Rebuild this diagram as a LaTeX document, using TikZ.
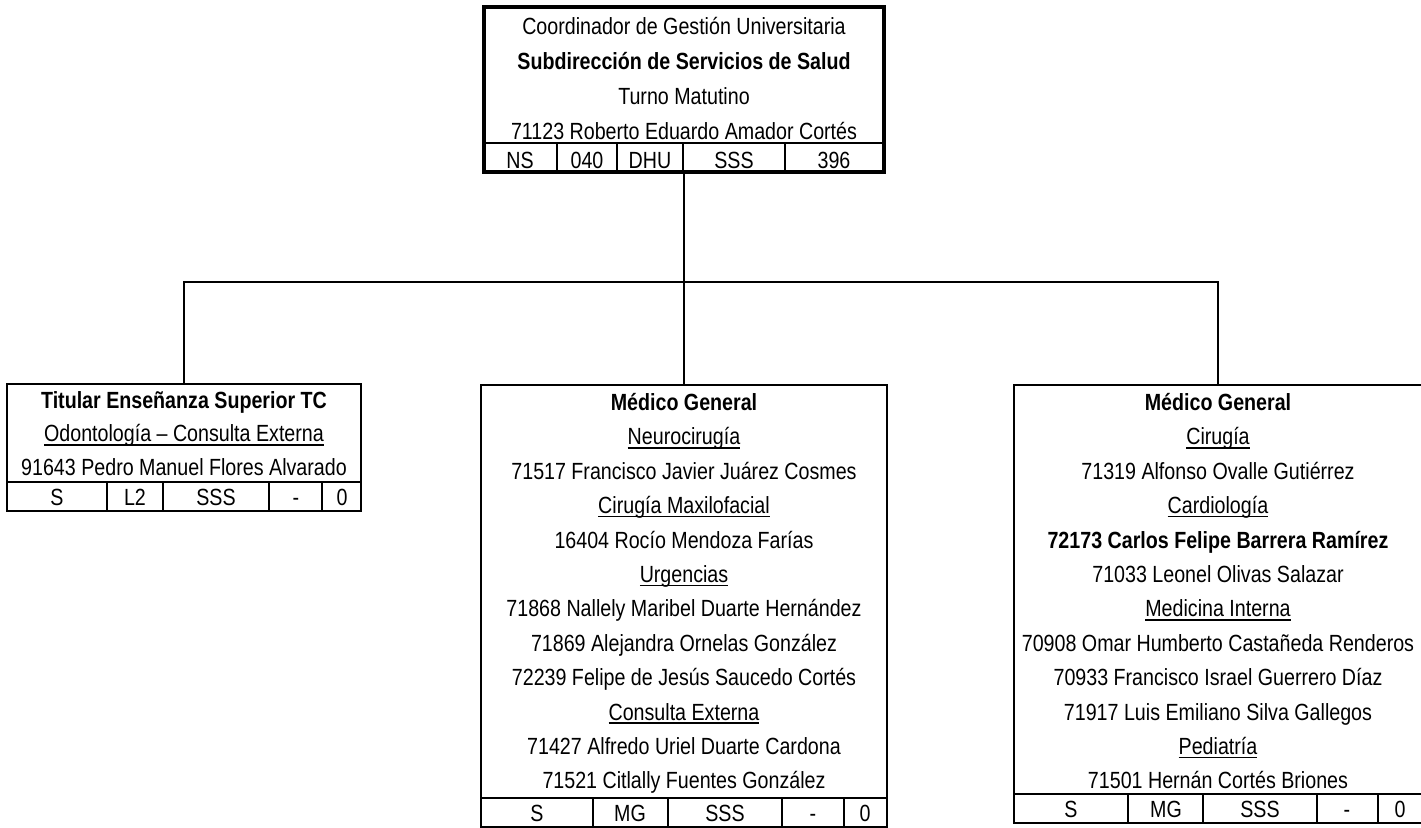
\documentclass[tikz,border=0pt]{standalone}
\usepackage{fontspec}
\setmainfont{Liberation Sans}[FakeStretch=0.84]
\usetikzlibrary{positioning}
\newcommand{\area}[1]{\setbox0=\hbox{#1}\leavevmode\rlap{\rule[-1.9pt]{\wd0}{0.8pt}}\box0}

\begin{document}
\begin{tikzpicture}[
  x=0.5pt, y=-0.5pt,
  txt/.style={anchor=base, inner sep=0pt, font=\fontsize{11.7}{14}\selectfont},
  frame/.style={draw, line width=1pt, inner sep=0pt},
  head/.style={frame, line width=2pt},
  cell/.style={line width=1pt},
  link/.style={line width=1pt},
]
\useasboundingbox (0,0) rectangle (1421,828);

\node[head,  minimum width=200pt, minimum height=82.5pt] (coord) at (684,89.5) {};
\node[frame, minimum width=177pt, minimum height=63.5pt] (odont) at (184,447.5) {};
\node[frame, minimum width=203pt, minimum height=221pt]  (mgA)   at (684,606) {};
\node[frame, minimum width=204pt, minimum height=219pt]  (mgB)   at (1218,604) {};

\coordinate (split) at (684,282);
\draw[link] (coord.south) -- (split);
\foreach \b in {odont, mgA, mgB}
  \draw[link] (split) -| (\b.north);

% jefe
\foreach \t [count=\i from 0] in {Coordinador de Gestión Universitaria,
    \textbf{Subdirección de Servicios de Salud}, Turno Matutino,
    71123 Roberto Eduardo Amador Cortés}
  \node[txt] (coord-\i) at (684,35+35*\i) {\t};
\draw[cell] (484,143) -- (884,143);
\foreach \x in {557,617,683,785}
  \draw[cell] (\x,143) -- (\x,172);
\foreach \x/\t [count=\i] in {520/NS, 587/040, 650/DHU, 734/SSS, 834/396}
  \node[txt] (coordc-\i) at (\x,169) {\t};

% odontologia
\foreach \t [count=\i from 0] in {\textbf{Titular Enseñanza Superior TC},
    \area{Odontología – Consulta Externa}, 91643 Pedro Manuel Flores Alvarado}
  \node[txt] (odont-\i) at (184,408.5+33.5*\i) {\t};
\draw[cell] (7,482) -- (361,482);
\foreach \x in {107,163,269,322}
  \draw[cell] (\x,482) -- (\x,511);
\foreach \x/\t [count=\i] in {57/S, 135/L2, 216/SSS, 296/-, 342/0}
  \node[txt] (odontc-\i) at (\x,506) {\t};

% medico general A
\foreach \t [count=\i from 0] in {\textbf{Médico General}, \area{Neurocirugía},
    71517 Francisco Javier Juárez Cosmes, \area{Cirugía Maxilofacial},
    16404 Rocío Mendoza Farías, \area{Urgencias},
    71868 Nallely Maribel Duarte Hernández, 71869 Alejandra Ornelas González,
    72239 Felipe de Jesús Saucedo Cortés, \area{Consulta Externa},
    71427 Alfredo Uriel Duarte Cardona, 71521 Citlally Fuentes González}
  \node[txt] (mgA-\i) at (684,410.5+34.4*\i) {\t};
\draw[cell] (481,798) -- (887,798);
\foreach \x in {593,668,782,844}
  \draw[cell] (\x,798) -- (\x,827);
\foreach \x/\t [count=\i] in {537/S, 630/MG, 725/SSS, 813/-, 865/0}
  \node[txt] (mgAc-\i) at (\x,822) {\t};

% medico general B
\foreach \t [count=\i from 0] in {\textbf{Médico General}, \area{Cirugía},
    71319 Alfonso Ovalle Gutiérrez, \area{Cardiología},
    \textbf{72173 Carlos Felipe Barrera Ramírez}, 71033 Leonel Olivas Salazar,
    \area{Medicina Interna}, 70908 Omar Humberto Castañeda Renderos,
    70933 Francisco Israel Guerrero Díaz, 71917 Luis Emiliano Silva Gallegos,
    \area{Pediatría}, 71501 Hernán Cortés Briones}
  \node[txt] (mgB-\i) at (1218,410.5+34.4*\i) {\t};
\draw[cell] (1014,794) -- (1421,794);
\foreach \x in {1128,1203,1317,1378}
  \draw[cell] (\x,794) -- (\x,823);
\foreach \x/\t [count=\i] in {1071/S, 1166/MG, 1260/SSS, 1347/-, 1400/0}
  \node[txt] (mgBc-\i) at (\x,818) {\t};
\end{tikzpicture}
\end{document}
